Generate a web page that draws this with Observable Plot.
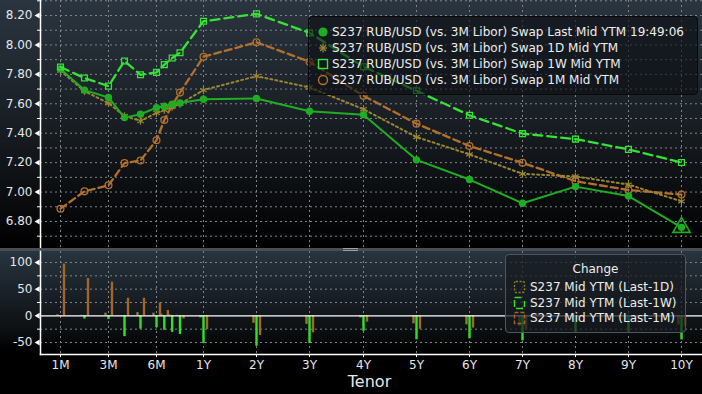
<!DOCTYPE html>
<html>
<head>
<meta charset="utf-8">
<script src="https://cdn.jsdelivr.net/npm/d3@7"></script>
<script src="https://cdn.jsdelivr.net/npm/@observablehq/plot@0.6"></script>
<style>
  html, body { margin: 0; padding: 0; background: #000; }
  #chart { position: relative; width: 702px; height: 394px; background: #000; overflow: hidden;
           font-family: "DejaVu Sans", sans-serif; color: #e6e6e6; }
  #topwrap { position: absolute; left: 0; top: 0; width: 702px; height: 248px;
             background: linear-gradient(to bottom, #2b353f 0%, #161b20 55%, #000 100%); }
  #botwrap { position: absolute; left: 0; top: 251px; width: 702px; height: 143px;
             background: linear-gradient(to bottom, #28343e 0px, #0c0f12 80px, #000 100px, #000 143px); }
  #sep { position: absolute; left: 0; top: 248px; width: 702px; height: 3px; background: #4a4d52; }
  #handle { position: absolute; left: 343px; top: 248px; width: 15px; height: 3px;
            border-top: 1px solid #a0a0a0; border-bottom: 1px solid #a0a0a0; box-sizing: border-box; }
  .legend { position: absolute; border-radius: 4px; font-size: 12px; color: #ececec; white-space: nowrap; }
  #leg1 { left: 308px; top: 16px; width: 388px; height: 77px; background: rgba(12,15,19,0.62); border: 1px solid #0a0a0a; }
  #leg2 { left: 505px; top: 254px; width: 179px; height: 77px; background: rgba(22,27,32,0.72); border: 1px solid #50555a; }
  .row { position: absolute; height: 14px; line-height: 14px; }
  .row svg { position: absolute; top: -1px; }
  .row span { position: absolute; top: 0; }
  svg { overflow: visible; }
</style>
</head>
<body>
<div id="chart">
  <div id="topwrap"></div>
  <div id="sep"></div>
  <div id="handle"></div>
  <div id="botwrap"></div>
  <div id="leg1" class="legend"></div>
  <div id="leg2" class="legend"></div>
</div>
<script>
// ---------- data ----------
const tenors = ["1M","2M","3M","4M","5M","6M","7M","8M","9M","1Y","2Y","3Y","4Y","5Y","6Y","7Y","8Y","9Y","10Y"];
const axisTenors = ["1M","3M","6M","1Y","2Y","3Y","4Y","5Y","6Y","7Y","8Y","9Y","10Y"];

const lastMid = [7.836,7.693,7.643,7.506,7.529,7.574,7.583,7.597,7.606,7.631,7.636,7.549,7.526,7.219,7.085,6.924,7.037,6.973,6.760];
const mid1D   = [7.825,7.686,7.604,7.517,7.483,7.538,7.558,7.579,7.599,7.693,7.788,7.711,7.563,7.374,7.256,7.124,7.106,7.051,6.937];
const mid1W   = [7.850,7.775,7.720,7.891,7.797,7.813,7.866,7.911,7.947,8.161,8.211,8.082,7.852,7.688,7.522,7.397,7.360,7.290,7.201];
const mid1M   = [6.887,7.005,7.046,7.197,7.215,7.352,7.490,7.590,7.676,7.920,8.018,7.886,7.654,7.465,7.313,7.199,7.074,7.014,6.983];

const chg1D = [2,1,5,-1,6,5,3,2,1,-4,-14,-16,-4,-15,-17,-20,-7,-8,-17];
const chg1W = [-1,-6,-7,-39,-25,-22,-27,-31,-35,-52,-57,-52,-29,-45,-43,-47,-31,-31,-45];
const chg1M = [97,70,63,33,33,24,10,0,-6,-26,-37,-32,-12,-25,-23,-27,-4,-4,-20];

const topTicks = [6.8,7.0,7.2,7.4,7.6,7.8,8.0,8.2];
const topMinor = [6.7,6.9,7.1,7.3,7.5,7.7,7.9,8.1,8.3];
const botTicks = [-50,0,50,100];
const botMinor = [-25,25,75];

const seriesLabels = [
  "S237 RUB/USD (vs. 3M Libor) Swap Last Mid YTM 19:49:06",
  "S237 RUB/USD (vs. 3M Libor) Swap 1D Mid YTM",
  "S237 RUB/USD (vs. 3M Libor) Swap 1W Mid YTM",
  "S237 RUB/USD (vs. 3M Libor) Swap 1M Mid YTM"
];
const changeTitle = "Change";
const changeLabels = ["S237 Mid YTM (Last-1D)","S237 Mid YTM (Last-1W)","S237 Mid YTM (Last-1M)"];
const xTitle = "Tenor";

// ---------- styling ----------
const C = { last: "#1fae23", d1: "#9a8630", w1: "#35e235", m1: "#b3702c",
            b1d: "#8f7d2e", b1w: "#33e026", b1m: "#a0662b", grid: "#80848a" };

const toMonths = t => parseInt(t, 10) * (t.endsWith("Y") ? 12 : 1);
const axisMonths = axisTenors.map(toMonths);
const xRange = [60,108,156,203,256,309,363,416,469,522,575,628,681]; // piecewise x scale range (px)

const rows = tenors.map((t, i) => ({
  tenor: t, m: toMonths(t),
  last: lastMid[i], d1: mid1D[i], w1: mid1W[i], m1: mid1M[i],
  c1d: chg1D[i], c1w: chg1W[i], c1m: chg1M[i]
}));
const labelOf = new Map(axisMonths.map((m, i) => [m, axisTenors[i]]));

const baseStyle = { background: "transparent", color: "#e6e6e6", fontFamily: "DejaVu Sans, sans-serif",
                    fontSize: "12px", overflow: "visible" };
const dotted = { stroke: C.grid, strokeDasharray: "2,3", strokeWidth: 1 };

// ---------- top panel ----------
const topPlot = Plot.plot({
  width: 702, height: 248, marginLeft: 40, marginRight: 0, marginTop: 0, marginBottom: 1,
  style: baseStyle,
  x: { type: "linear", domain: axisMonths, range: xRange, axis: null },
  y: { domain: [6.63, 8.302], range: [246, 0] },
  marks: [
    Plot.ruleY(topTicks.concat(topMinor), dotted),
    Plot.ruleX(axisMonths, dotted),
    Plot.line(rows, { x: "m", y: "m1", stroke: C.m1, strokeWidth: 2.3, strokeDasharray: "7,4" }),
    Plot.dot(rows, { x: "m", y: "m1", stroke: C.m1, symbol: "circle", r: 3.4, strokeWidth: 1.3 }),
    Plot.line(rows, { x: "m", y: "d1", stroke: C.d1, strokeWidth: 2, strokeDasharray: "2,3" }),
    Plot.dot(rows, { x: "m", y: "d1", stroke: C.d1, symbol: "asterisk", r: 3.6, strokeWidth: 1.2 }),
    Plot.line(rows, { x: "m", y: "last", stroke: C.last, strokeWidth: 2 }),
    Plot.dot(rows, { x: "m", y: "last", fill: C.last, symbol: "circle", r: 3.7 }),
    Plot.dot(rows.slice(-1), { x: "m", y: "last", stroke: C.last, symbol: "triangle", r: 6.4, strokeWidth: 1.6 }),
    Plot.line(rows, { x: "m", y: "w1", stroke: C.w1, strokeWidth: 2.3, strokeDasharray: "9,5" }),
    Plot.dot(rows, { x: "m", y: "w1", stroke: C.w1, symbol: "square", r: 3.3, strokeWidth: 1.3 }),
    Plot.frame({ anchor: "left", stroke: "#ffffff", strokeWidth: 1.5 }),
    Plot.axisY({ ticks: topTicks, tickFormat: d3.format(".2f"), tickSize: 0, tickPadding: 8, fontSize: 12, fill: "#e6e6e6", label: null }),
    Plot.axisY({ ticks: topMinor, tickFormat: () => "", tickSize: 3, stroke: "#ffffff", label: null }),
    Plot.dot(topTicks, { y: d => d, frameAnchor: "left", dx: -2.5, symbol: "triangle", r: 2.2, fill: "#ffffff", rotate: -90 })
  ]
});
document.getElementById("topwrap").append(topPlot);

// ---------- bottom panel ----------
const botPlot = Plot.plot({
  width: 702, height: 143, marginLeft: 40, marginRight: 0, marginTop: 0, marginBottom: 40,
  style: baseStyle,
  x: { type: "linear", domain: axisMonths, range: xRange },
  y: { domain: [-72.5, 120.6], range: [103, 0] },
  marks: [
    Plot.ruleY(botMinor.concat([-50, 50, 100]), dotted),
    Plot.ruleX(axisMonths, dotted),
    Plot.ruleX(rows, { x: "m", y1: 0, y2: "c1d", stroke: C.b1d, strokeWidth: 2.4, dx: -3 }),
    Plot.ruleX(rows, { x: "m", y1: 0, y2: "c1w", stroke: C.b1w, strokeWidth: 2.4, dx: 0 }),
    Plot.ruleX(rows, { x: "m", y1: 0, y2: "c1m", stroke: C.b1m, strokeWidth: 2.4, dx: 3.5 }),
    Plot.ruleY([0], { stroke: "#ffffff", strokeWidth: 1.3 }),
    Plot.frame({ anchor: "left", stroke: "#ffffff", strokeWidth: 1.5 }),
    Plot.frame({ anchor: "bottom", stroke: "#ffffff", strokeWidth: 1.5 }),
    Plot.axisY({ ticks: botTicks, tickFormat: d => String(d), tickSize: 0, tickPadding: 8, fontSize: 12, fill: "#e6e6e6", label: null }),
    Plot.axisY({ ticks: botMinor, tickFormat: () => "", tickSize: 3, stroke: "#ffffff", label: null }),
    Plot.dot(botTicks, { y: d => d, frameAnchor: "left", dx: -2.5, symbol: "triangle", r: 2.2, fill: "#ffffff", rotate: -90 }),
    Plot.axisX({ ticks: axisMonths, tickFormat: m => labelOf.get(m), tickSize: 3, tickPadding: 3, fontSize: 12,
                 stroke: "#ffffff", fill: "#e6e6e6", label: null }),
    Plot.text([xTitle], { text: d => d, frameAnchor: "bottom", dx: -2, dy: 32, fontSize: 16, fill: "#e6e6e6" })
  ]
});
document.getElementById("botwrap").append(botPlot);

// ---------- legends ----------
const topIcons = [
  `<circle cx="6" cy="8" r="4.6" fill="${C.last}"/>`,
  `<g stroke="${C.d1}" stroke-width="1.3"><line x1="6" y1="3.5" x2="6" y2="12.5"/><line x1="2" y1="8" x2="10" y2="8"/><line x1="3" y1="5" x2="9" y2="11"/><line x1="9" y1="5" x2="3" y2="11"/></g>`,
  `<rect x="1.5" y="3.5" width="9" height="9" fill="none" stroke="${C.w1}" stroke-width="1.4"/>`,
  `<circle cx="6" cy="8" r="4.5" fill="none" stroke="${C.m1}" stroke-width="1.4"/>`
];
const leg1 = document.getElementById("leg1");
seriesLabels.forEach((lab, i) => {
  const r = document.createElement("div");
  r.className = "row";
  r.style.left = "0px"; r.style.top = (8 + 16 * i) + "px"; r.style.width = "388px";
  r.innerHTML = `<svg width="12" height="16" style="left:8px">${topIcons[i]}</svg><span style="left:23px">${lab}</span>`;
  leg1.append(r);
});

const botIcons = [
  `<rect x="1.5" y="2.5" width="10" height="11" rx="1.5" fill="none" stroke="${C.b1d}" stroke-width="1.3" stroke-dasharray="2,1.6"/>`,
  `<path d="M1.5 2.5 H11.5 M1.5 5 V13.5 H11.5 V6" fill="none" stroke="${C.b1w}" stroke-width="1.5" stroke-dasharray="7,3"/>`,
  `<rect x="1.5" y="2.5" width="10" height="11" fill="none" stroke="${C.b1m}" stroke-width="1.4" stroke-dasharray="4,2"/>`
];
const leg2 = document.getElementById("leg2");
const title = document.createElement("div");
title.className = "row";
title.style.left = "0px"; title.style.top = "7px"; title.style.width = "179px"; title.style.textAlign = "center";
title.textContent = changeTitle;
leg2.append(title);
changeLabels.forEach((lab, i) => {
  const r = document.createElement("div");
  r.className = "row";
  r.style.left = "0px"; r.style.top = (25 + 15.5 * i) + "px"; r.style.width = "179px";
  r.innerHTML = `<svg width="13" height="16" style="left:7px">${botIcons[i]}</svg><span style="left:24px">${lab}</span>`;
  leg2.append(r);
});
</script>
</body>
</html>
